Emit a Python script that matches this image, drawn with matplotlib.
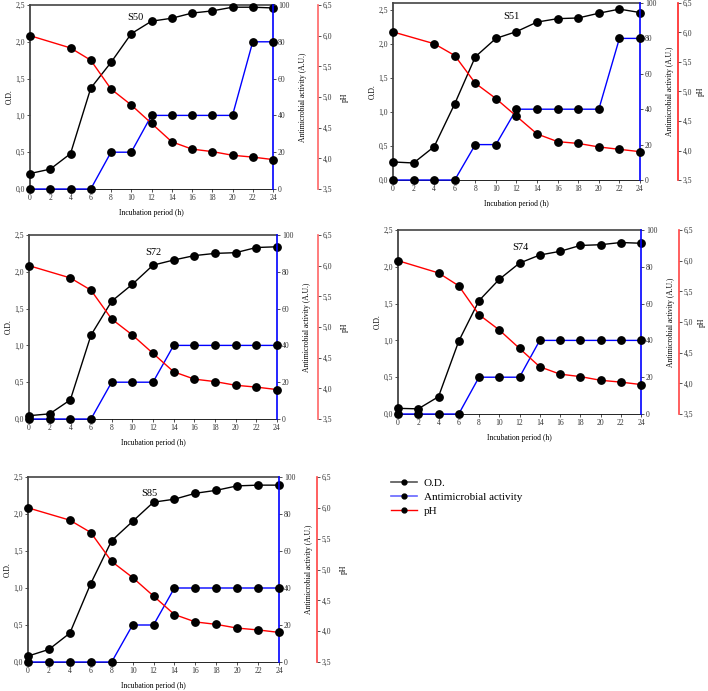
import matplotlib.pyplot as plt
from matplotlib.ticker import FuncFormatter
from matplotlib.lines import Line2D

plt.rcParams['font.family'] = ['Liberation Serif', 'DejaVu Serif']

hours = [0, 2, 4, 6, 8, 10, 12, 14, 16, 18, 20, 22, 24]
ph_hours = [0, 4, 6, 8, 10, 12, 14, 16, 18, 20, 22, 24]

strains = ['S50', 'S51', 'S72', 'S74', 'S85']

od = {
    'S50': [0.21, 0.27, 0.48, 1.37, 1.72, 2.11, 2.28, 2.32, 2.39, 2.42, 2.47, 2.47, 2.46],
    'S51': [0.265, 0.25, 0.49, 1.12, 1.81, 2.08, 2.18, 2.32, 2.37, 2.38, 2.45, 2.51, 2.46],
    'S72': [0.045, 0.07, 0.26, 1.14, 1.60, 1.83, 2.09, 2.16, 2.22, 2.25, 2.26, 2.33, 2.34],
    'S74': [0.077, 0.07, 0.235, 0.99, 1.54, 1.83, 2.05, 2.16, 2.21, 2.29, 2.30, 2.33, 2.32],
    'S85': [0.08, 0.17, 0.39, 1.06, 1.64, 1.90, 2.16, 2.20, 2.28, 2.32, 2.38, 2.39, 2.39],
}

activity = {
    'S50': [0, 0, 0, 0, 20, 20, 40, 40, 40, 40, 40, 80, 80],
    'S51': [0, 0, 0, 0, 20, 20, 40, 40, 40, 40, 40, 80, 80],
    'S72': [0, 0, 0, 0, 20, 20, 20, 40, 40, 40, 40, 40, 40],
    'S74': [0, 0, 0, 0, 20, 20, 20, 40, 40, 40, 40, 40, 40],
    'S85': [0, 0, 0, 0, 0, 20, 20, 40, 40, 40, 40, 40, 40],
}

ph = {
    'S50': [6.0, 5.80, 5.60, 5.13, 4.87, 4.57, 4.27, 4.15, 4.11, 4.05, 4.02, 3.98],
    'S51': [6.01, 5.81, 5.61, 5.14, 4.88, 4.58, 4.28, 4.15, 4.12, 4.06, 4.02, 3.98],
    'S72': [6.0, 5.80, 5.60, 5.13, 4.87, 4.57, 4.27, 4.15, 4.11, 4.05, 4.02, 3.98],
    'S74': [6.0, 5.80, 5.59, 5.12, 4.87, 4.57, 4.27, 4.15, 4.11, 4.05, 4.02, 3.98],
    'S85': [6.0, 5.80, 5.60, 5.13, 4.87, 4.57, 4.27, 4.15, 4.11, 4.05, 4.02, 3.98],
}

W, H = 708, 691
# panel boxes in pixels: left, top, right, bottom, ph spine offset (px), od max, label pos, pH labelpad
boxes = {
    'S50': (30, 5, 273, 189, 45, 2.5, (0.40, 0.92), 6),
    'S51': (393, 3, 640, 180, 38, 2.6, (0.445, 0.91), 3),
    'S72': (29, 235, 277, 419, 41, 2.5, (0.47, 0.89), 6),
    'S74': (398, 230, 641, 414, 38, 2.5, (0.47, 0.89), 3),
    'S85': (28, 477, 279, 662, 38, 2.5, (0.45, 0.90), 6),
}
ph_spine = {'S50': '#ff6666', 'S51': '#ff2222', 'S72': '#ff6666', 'S74': '#ff4444', 'S85': '#ff4444'}

comma1 = FuncFormatter(lambda v, p: ('%.1f' % v).replace('.', ','))
fs = 5.5
mk = dict(marker='o', ms=5.3, mfc='black', mec='black', clip_on=False, zorder=3)

fig = plt.figure(figsize=(W / 100, H / 100), dpi=100)

for s in strains:
    l, t, r, b, off, odmax, lab, phpad = boxes[s]
    ax = fig.add_axes([l / W, 1 - b / H, (r - l) / W, (b - t) / H])
    ax2 = ax.twinx()
    ax3 = ax.twinx()

    ax.plot(hours, od[s], color='black', lw=1, **mk)
    ax2.plot(hours, activity[s], color='blue', lw=1, **mk)
    ax3.plot(ph_hours, ph[s], color='red', lw=1, **mk)

    ax.set_xlim(0, 24)
    ax.set_ylim(0, odmax)
    ax.set_xticks(hours)
    ax.set_yticks([0, 0.5, 1.0, 1.5, 2.0, 2.5])
    ax.yaxis.set_major_formatter(comma1)
    ax2.set_ylim(0, 100)
    ax2.set_yticks([0, 20, 40, 60, 80, 100])
    ax3.set_ylim(3.5, 6.5)
    ax3.set_yticks([3.5, 4.0, 4.5, 5.0, 5.5, 6.0, 6.5])
    ax3.yaxis.set_major_formatter(comma1)

    for a in (ax, ax2, ax3):
        a.tick_params(labelsize=fs, length=2, width=0.6, pad=1.5, colors='#333333')

    ax.spines['left'].set_color('#444444')
    ax.spines['left'].set_linewidth(1.3)
    ax.spines['top'].set_color('#444444')
    ax.spines['top'].set_linewidth(1.2)
    ax.spines['bottom'].set_linewidth(0.6)
    ax.spines['right'].set_visible(False)

    for sp in ('left', 'top', 'bottom'):
        ax2.spines[sp].set_visible(False)
        ax3.spines[sp].set_visible(False)
    ax2.spines['right'].set_color('blue')
    ax2.spines['right'].set_linewidth(1.2)
    ax3.spines['right'].set_position(('outward', off * 0.72))
    ax3.spines['right'].set_color(ph_spine[s])
    ax3.spines['right'].set_linewidth(1.2)

    ax.set_xlabel('Incubation period (h)', fontsize=fs, labelpad=5)
    ax.set_ylabel('O.D.', fontsize=fs, labelpad=1.5)
    ax2.set_ylabel('Antimicrobial activity (A.U.)', fontsize=fs, labelpad=7)
    ax3.set_ylabel('pH', fontsize=fs, labelpad=phpad)
    ax.text(lab[0], lab[1], s, transform=ax.transAxes, fontsize=7.5)

handles = [
    Line2D([], [], color='#555555', lw=1.2, marker='o', ms=3.5, mfc='black', mec='black'),
    Line2D([], [], color='#6666ff', lw=1.2, marker='o', ms=3.5, mfc='black', mec='black'),
    Line2D([], [], color='red', lw=1.0, marker='o', ms=3.5, mfc='black', mec='black'),
]
fig.legend(handles, ['O.D.', 'Antimicrobial activity', 'pH'], loc='upper left',
           bbox_to_anchor=(387 / W, 1 - 474 / H), frameon=False, fontsize=8,
           handlelength=2.3, handletextpad=0.6, labelspacing=0.35, borderaxespad=0)

fig.savefig('out.png', dpi=100)
